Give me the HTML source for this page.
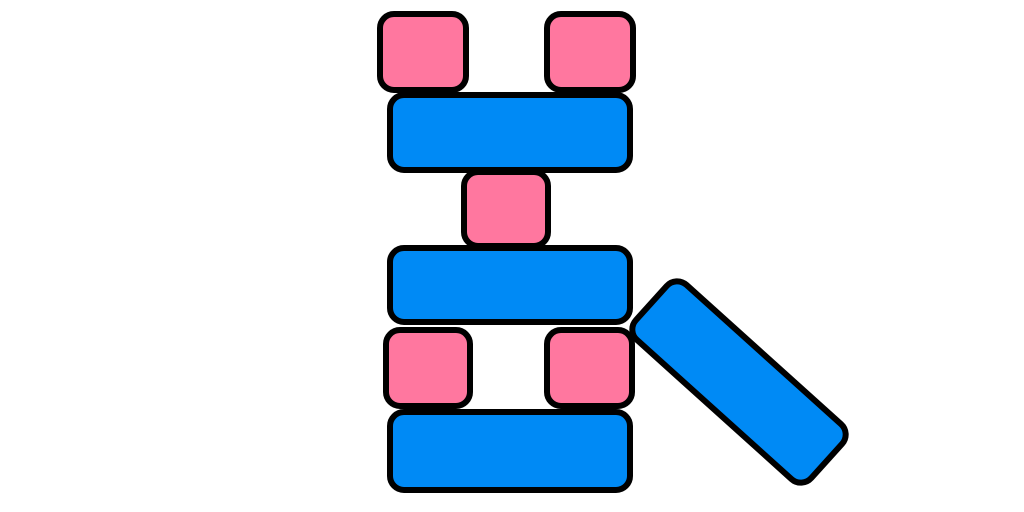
<!DOCTYPE html>
<html>
<head>
<meta charset="utf-8">
<style>
  html,body{margin:0;padding:0;background:#fff;width:1024px;height:512px;overflow:hidden;}
  svg{display:block;}
</style>
</head>
<body>
<svg width="1024" height="512" viewBox="0 0 1024 512">
  <g stroke="#000" stroke-width="6" stroke-linejoin="round">
    <rect x="380" y="14" width="86" height="76" rx="14" fill="#ff779f"/>
    <rect x="547" y="14" width="86" height="76" rx="14" fill="#ff779f"/>
    <rect x="390" y="95" width="240" height="75" rx="14" fill="#008af5"/>
    <rect x="464" y="172" width="84" height="74" rx="14" fill="#ff779f"/>
    <rect x="390" y="248" width="240" height="74" rx="14" fill="#008af5"/>
    <rect x="386" y="330" width="84" height="76" rx="14" fill="#ff779f"/>
    <rect x="547" y="330" width="85" height="76" rx="14" fill="#ff779f"/>
    <rect x="390" y="412" width="240" height="78" rx="14" fill="#008af5"/>
    <rect x="-118" y="-37" width="236" height="74" rx="14" fill="#008af5" transform="translate(739,382) rotate(42)"/>
  </g>
</svg>
</body>
</html>
